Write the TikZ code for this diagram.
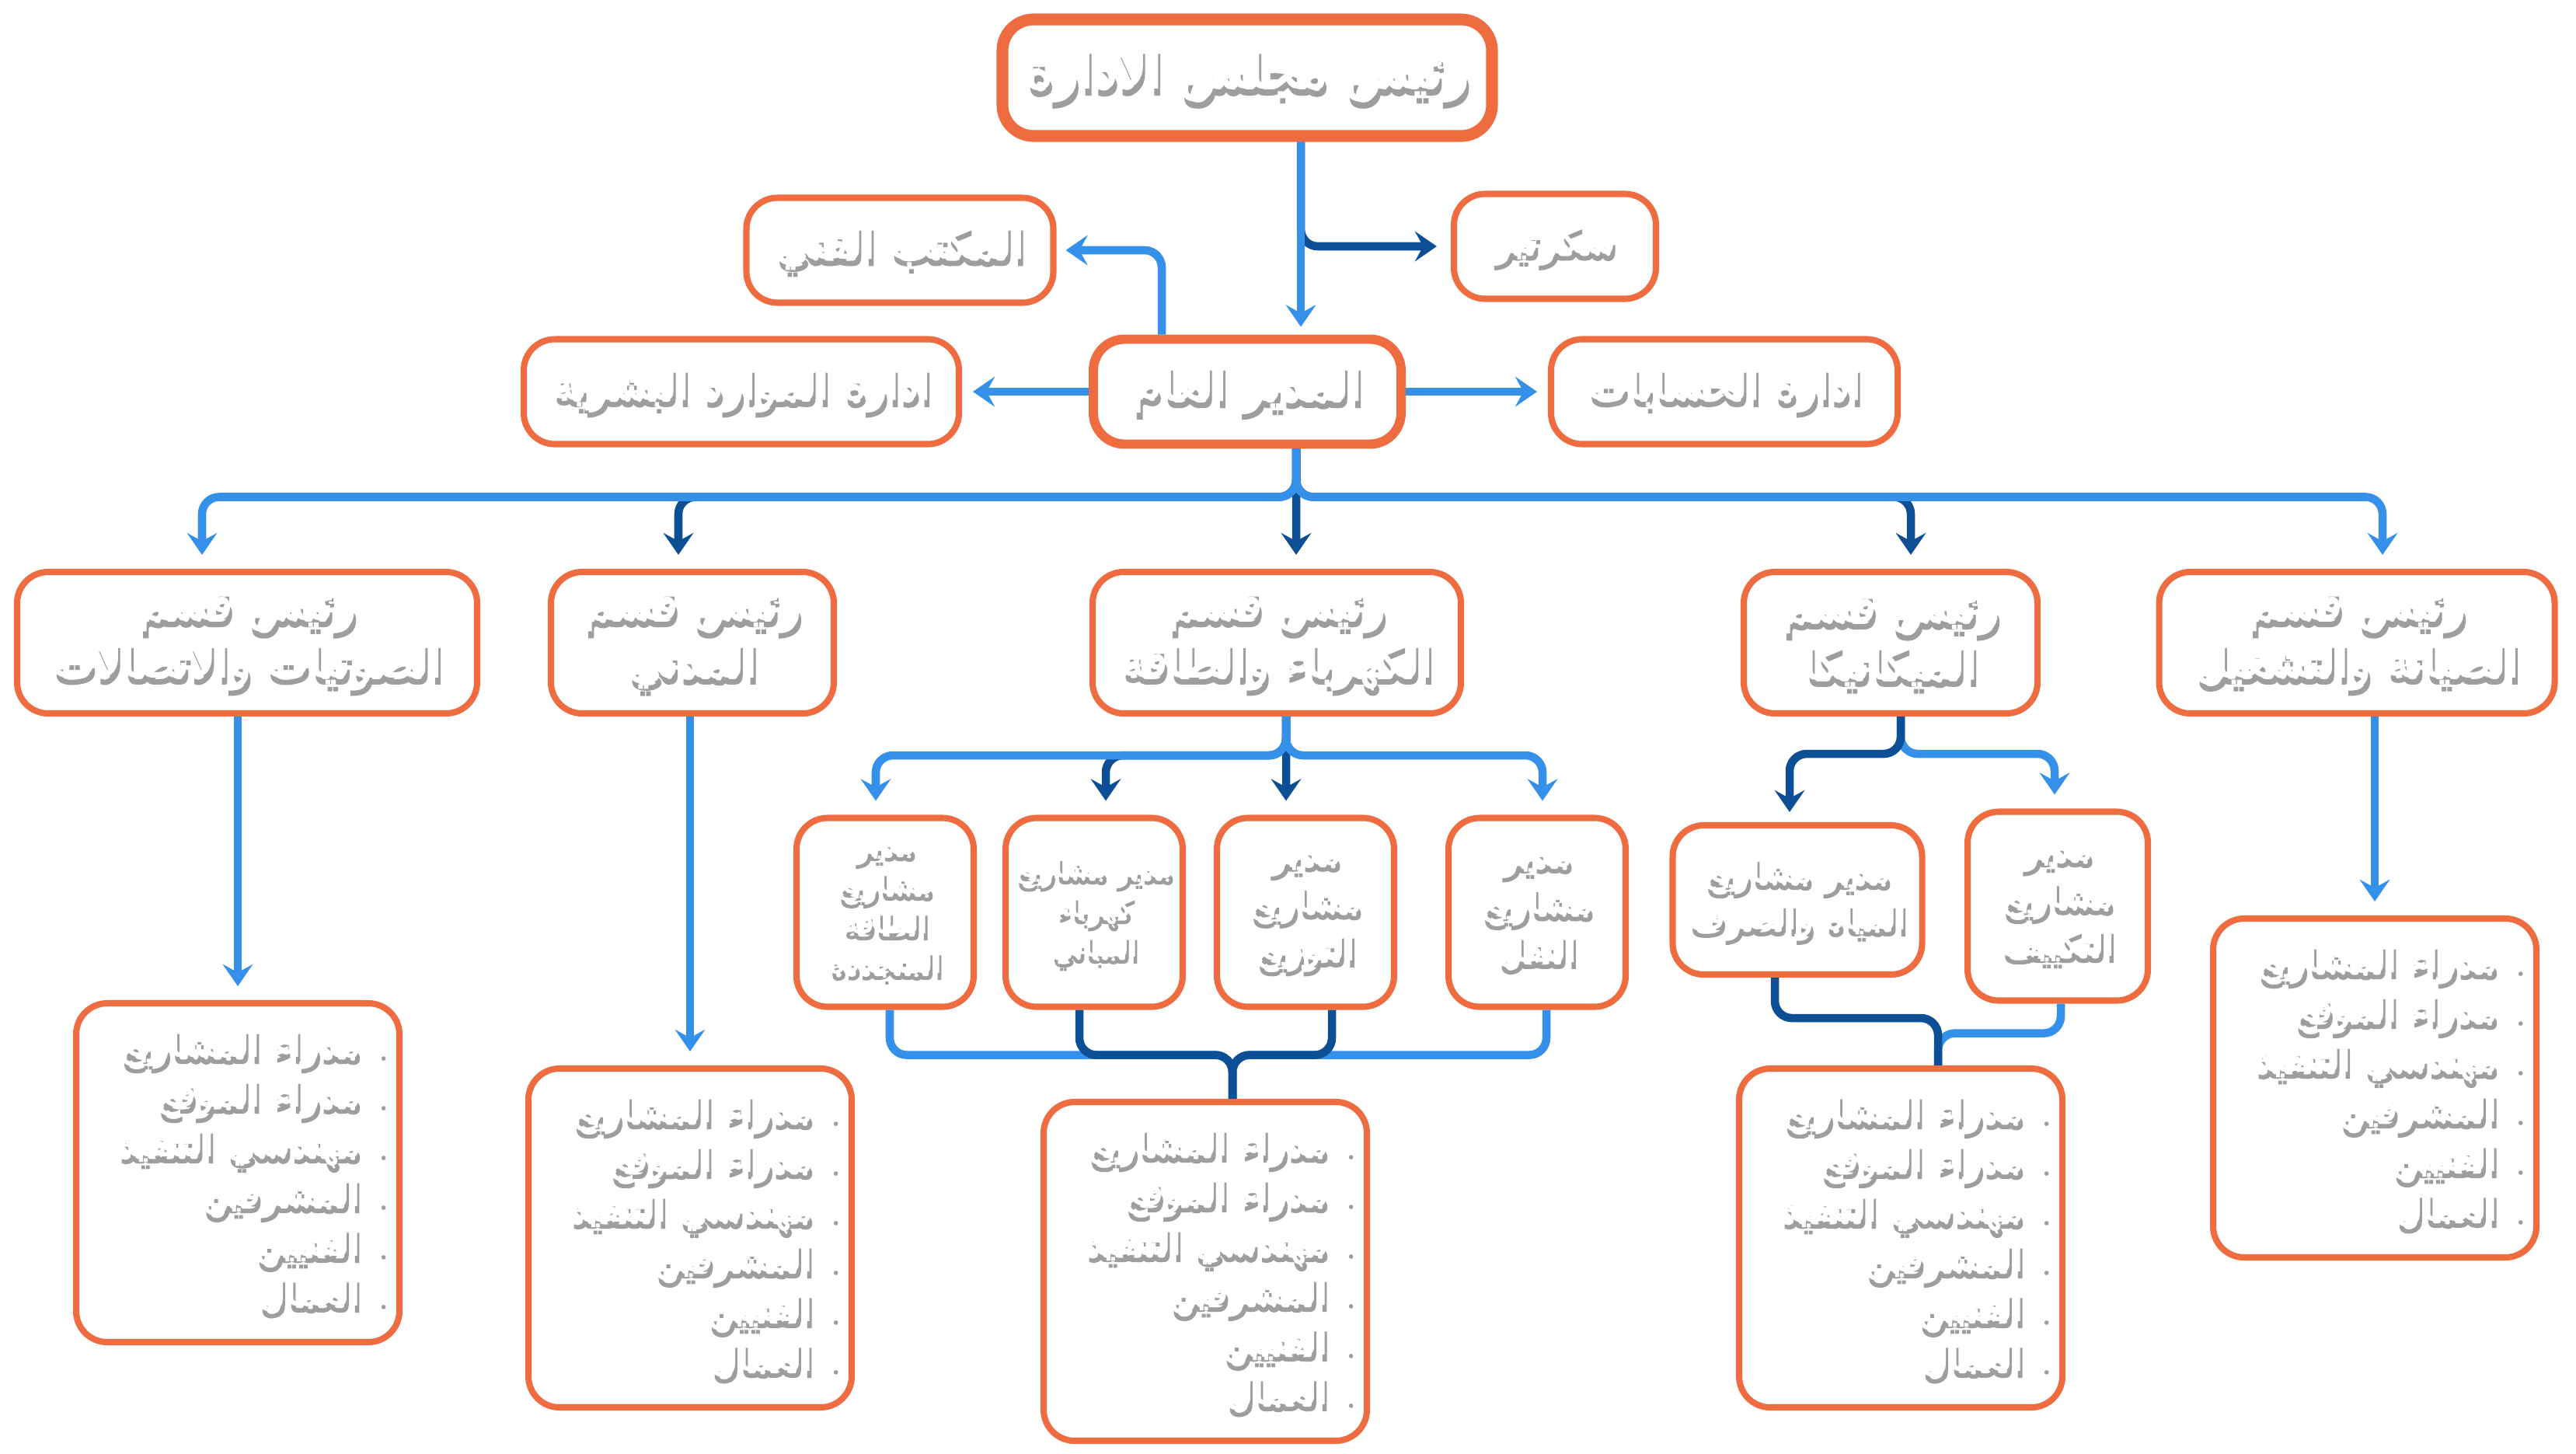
\documentclass[tikz,border=0pt]{standalone}
\usepackage{fontspec}
\usetikzlibrary{arrows.meta}
\TeXXeTstate=1
\newfontfamily\arabicfont[Script=Arabic,FakeBold=2.5]{DejaVu Sans}
\definecolor{boxorange}{RGB}{238,108,64}
\definecolor{lineblue}{RGB}{53,144,233}
\definecolor{linenavy}{RGB}{12,79,148}
\newcommand{\artxt}[1]{\hbox{\arabicfont\beginR #1\endR}}
\newcommand{\shtxt}[1]{\leavevmode\rlap{\kern0.8pt\raisebox{-2.6pt}{\color{black!38}\artxt{#1}}}{\color{white}\artxt{#1}}}
\newcommand{\staffitem}[1]{\shtxt{#1}\hspace{0.22cm}{\tiny\shtxt{•}}}
\newcommand{\stafflist}{\staffitem{مدراء المشاريع}\\\staffitem{مدراء الموقع}\\\staffitem{مهندسي التنفيذ}\\\staffitem{المشرفين}\\\staffitem{الفنيين}\\\staffitem{العمال}}
\begin{document}
\begin{tikzpicture}[
    box/.style={draw=boxorange, line width=2.3pt, rounded corners=0.4cm, fill=white, text=white, align=center, inner sep=0pt},
    bigbox/.style={box, line width=4.3pt, font=\fontsize{19.5}{24}\selectfont},
    unit/.style={box, minimum height=1.35cm, font=\fontsize{16.5}{20}\selectfont},
    head/.style={box, minimum height=1.82cm, font=\fontsize{17}{21}\selectfont},
    sub/.style={box, minimum width=2.28cm, minimum height=2.43cm, font=\fontsize{13.5}{17.5}\selectfont},
    staff/.style={box, minimum width=4.16cm, minimum height=4.36cm, text width=3.8cm, align=right, font=\fontsize{14}{18.2}\selectfont},
    lb/.style={draw=lineblue, line width=3pt, rounded corners=0.22cm},
    nv/.style={draw=linenavy, line width=3pt, rounded corners=0.22cm},
    tip/.style={-{Stealth[length=8pt,width=11pt,inset=3pt]}, shorten >=0.18cm}
  ]
  \useasboundingbox (0,0) rectangle (33.15,-18.70);

  \node[bigbox, minimum width=6.3cm, minimum height=1.5cm] (board) at (16.05,-1.00) {\shtxt{رئيس مجلس الادارة}};
  \node[unit, minimum width=2.6cm, font=\fontsize{14.5}{18}\selectfont] (secr) at (20.01,-3.17) {\shtxt{سكرتير}};
  \node[unit, minimum width=3.95cm] (techoff) at (11.58,-3.22) {\shtxt{المكتب الفني}};
  \node[unit, line width=3.4pt, minimum width=3.96cm, font=\fontsize{17.5}{20}\selectfont] (gm) at (16.05,-5.04) {\shtxt{المدير العام}};
  \node[unit, minimum width=5.6cm, font=\fontsize{16}{20}\selectfont] (hr) at (9.54,-5.04) {\shtxt{ادارة الموارد البشرية}};
  \node[unit, minimum width=4.46cm, font=\fontsize{16}{20}\selectfont] (acc) at (22.19,-5.04) {\shtxt{ادارة الحسابات}};

  \node[head, minimum width=5.92cm] (hAud) at (3.18,-8.27) {\shtxt{رئيس قسم}\\\shtxt{الصوتيات والاتصالات}};
  \node[head, minimum width=3.64cm] (hCiv) at (8.91,-8.27) {\shtxt{رئيس قسم}\\\shtxt{المدني}};
  \node[head, minimum width=4.74cm] (hElec) at (16.43,-8.27) {\shtxt{رئيس قسم}\\\shtxt{الكهرباء والطاقة}};
  \node[head, minimum width=3.78cm] (hMech) at (24.33,-8.27) {\shtxt{رئيس قسم}\\\shtxt{الميكانيكا}};
  \node[head, minimum width=5.09cm] (hMaint) at (30.33,-8.27) {\shtxt{رئيس قسم}\\\shtxt{الصيانة والتشغيل}};

  \node[sub, font=\fontsize{11.5}{14.5}\selectfont] (mRen) at (11.39,-11.74) {\shtxt{مدير}\\\shtxt{مشاريع}\\\shtxt{الطاقة}\\\shtxt{المتجددة}};
  \node[sub, font=\fontsize{11}{14.5}\selectfont] (mBld) at (14.08,-11.74) {\shtxt{مدير مشاريع}\\\shtxt{كهرباء}\\\shtxt{المباني}};
  \node[sub] (mDist) at (16.80,-11.74) {\shtxt{مدير}\\\shtxt{مشاريع}\\\shtxt{التوزيع}};
  \node[sub] (mTrans) at (19.78,-11.74) {\shtxt{مدير}\\\shtxt{مشاريع}\\\shtxt{النقل}};
  \node[sub, minimum width=3.21cm, minimum height=1.92cm, font=\fontsize{13}{17}\selectfont] (mWater) at (23.13,-11.58) {\shtxt{مدير مشاريع}\\\shtxt{المياه والصرف}};
  \node[sub, minimum width=2.32cm] (mHvac) at (26.48,-11.66) {\shtxt{مدير}\\\shtxt{مشاريع}\\\shtxt{التكييف}};

  \node[staff] (lAud) at (3.06,-15.09) {\stafflist};
  \node[staff] (lCiv) at (8.88,-15.93) {\stafflist};
  \node[staff] (lElec) at (15.51,-16.36) {\stafflist};
  \node[staff] (lMech) at (24.46,-15.93) {\stafflist};
  \node[staff] (lMaint) at (30.56,-14.00) {\stafflist};

  \path[nv,tip] ([xshift=0.69cm]board.south) |- (secr.west);
  \path[lb,tip,shorten >=0.1cm] ([xshift=0.69cm]board.south) -- ([xshift=0.69cm]gm.north);
  \path[lb,tip,shorten >=0.12cm] ([xshift=-1.10cm]gm.north) |- (techoff.east);
  \path[lb,tip,shorten >=0.14cm] (gm.west) -- (hr.east);
  \path[lb,tip,shorten >=0.14cm] (gm.east) -- (acc.west);

  \path[nv,tip] ([xshift=0.63cm]gm.south) -- ++(0,-0.62) -| ([xshift=-0.18cm]hCiv.north);
  \path[nv,tip] ([xshift=0.63cm]gm.south) -- ([xshift=0.25cm]hElec.north);
  \path[nv,tip] ([xshift=0.63cm]gm.south) -- ++(0,-0.62) -| ([xshift=0.26cm]hMech.north);
  \path[lb,tip] ([xshift=0.63cm]gm.south) -- ++(0,-0.62) -| ([xshift=-0.58cm]hAud.north);
  \path[lb,tip] ([xshift=0.63cm]gm.south) -- ++(0,-0.62) -| ([xshift=0.33cm]hMaint.north);

  \path[lb,tip] (hAud.south -| lAud.north) -- (lAud.north);
  \path[lb,tip] (hCiv.south -| lCiv.north) -- (lCiv.north);
  \path[lb,tip] (hMaint.south -| lMaint.north) -- (lMaint.north);

  \path[nv,tip] ([xshift=0.12cm]hElec.south) -- ++(0,-0.5) -| ([xshift=0.15cm]mBld.north);
  \path[nv,tip] ([xshift=0.12cm]hElec.south) -- ([xshift=-0.25cm]mDist.north);
  \path[lb,tip] ([xshift=0.12cm]hElec.south) -- ++(0,-0.5) -| ([xshift=-0.12cm]mRen.north);
  \path[lb,tip] ([xshift=0.12cm]hElec.south) -- ++(0,-0.5) -| ([xshift=0.07cm]mTrans.north);

  \path[lb] ([xshift=0.06cm]mRen.south) -- ++(0,-0.58) -| ([xshift=0.35cm]lElec.north);
  \path[lb] ([xshift=0.12cm]mTrans.south) -- ++(0,-0.58) -| ([xshift=0.35cm]lElec.north);
  \path[nv] ([xshift=-0.19cm]mBld.south) -- ++(0,-0.58) -| ([xshift=0.35cm]lElec.north);
  \path[nv] ([xshift=0.34cm]mDist.south) -- ++(0,-0.58) -| ([xshift=0.35cm]lElec.north);

  \path[lb,tip] ([xshift=0.13cm]hMech.south) -- ++(0,-0.48) -| ([xshift=-0.04cm]mHvac.north);
  \path[nv,tip,shorten >=0.13cm] ([xshift=0.13cm]hMech.south) -- ++(0,-0.48) -| ([xshift=-0.1cm]mWater.north);

  \path[lb] ([xshift=0.04cm]mHvac.south) -- ++(0,-0.38) -| ([xshift=0.48cm]lMech.north);
  \path[nv] ([xshift=-0.29cm]mWater.south) -- ++(0,-0.52) -| ([xshift=0.48cm]lMech.north);
\end{tikzpicture}
\end{document}
